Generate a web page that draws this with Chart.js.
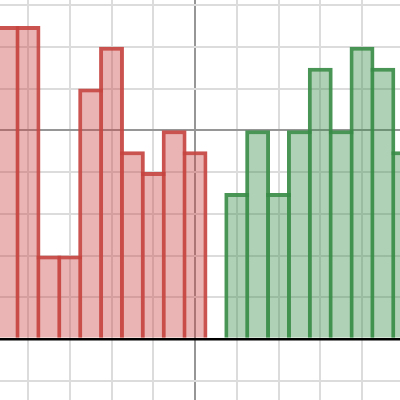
<!DOCTYPE html>
<html>
<head>
<meta charset="utf-8">
<script src="https://cdn.jsdelivr.net/npm/chart.js@4"></script>
<style>
  html, body { margin: 0; padding: 0; background: #fff; }
  #wrap { width: 400px; height: 400px; }
</style>
</head>
<body>
<div id="wrap"><canvas id="chart"></canvas></div>
<script>
// ------------------------------------
// DATA
// ------------------------------------
const redX = [-4.5, -4, -3.5, -3, -2.5, -2, -1.5, -1, -0.5, 0];
const redY = [7.5, 7.5, 2, 2, 6, 7, 4.5, 4, 5, 4.5];

const greenX = [1, 1.5, 2, 2.5, 3, 3.5, 4, 4.5, 5];
const greenY = [3.5, 5, 3.5, 5, 6.5, 5, 7, 6.5, 4.5];

// ------------------------------------
// helpers
// ------------------------------------
const EDGE = 4;
const BAR_PX = 20.875; // half a grid unit at this zoom

// shared edge between two bars is drawn once, by the taller bar
function edges(ctx) {
  const d = ctx.dataset.data;
  const i = ctx.dataIndex;
  if (i === undefined || !d[i]) return EDGE;
  const me = d[i].y;
  const left = i > 0 ? d[i - 1].y : null;
  const right = i < d.length - 1 ? d[i + 1].y : null;
  return {
    top: EDGE,
    left: left === null || left < me ? EDGE : 0,
    right: right === null || right <= me ? EDGE : 0,
    bottom: 0,
  };
}

function gridColor(isY) {
  return (ctx) => {
    if (!ctx.tick) return "#dcdcdc";
    const v = ctx.tick.value;
    if (isY && v === 0) return "#000000";
    if (v % 5 === 0) return "#969696";
    return "#dcdcdc";
  };
}

// ------------------------------------
// CHART
// ------------------------------------
const ctx = document.getElementById("chart").getContext("2d");

new Chart(ctx, {
  type: "bar",
  data: {
    datasets: [
      {
        label: "red",
        data: redX.map((x, i) => ({ x: x, y: redY[i] })),
        backgroundColor: "rgba(199,68,64,0.4)",
        borderColor: "rgba(199,68,64,0.92)",
        borderWidth: edges,
      },
      {
        label: "green",
        data: greenX.map((x, i) => ({ x: x, y: greenY[i] })),
        backgroundColor: "rgba(56,140,70,0.4)",
        borderColor: "rgba(56,140,70,0.92)",
        borderWidth: edges,
      },
    ],
  },
  options: {
    responsive: true,
    maintainAspectRatio: false,
    animation: false,
    layout: { padding: 0 },
    grouped: false,
    // widen so the inner border sits centred on the bin edge
    barPercentage: 1 + EDGE / BAR_PX,
    categoryPercentage: 1,
    inflateAmount: 0,
    plugins: {
      legend: { display: false },
      tooltip: { enabled: false },
    },
    scales: {
      x: {
        type: "linear",
        offset: false,
        min: -4.671,
        max: 4.91,
        ticks: { display: false, stepSize: 1, includeBounds: false },
        grid: {
          color: gridColor(false),
          lineWidth: 2,
          drawTicks: false,
          offset: false,
        },
        border: { display: false },
      },
      y: {
        type: "linear",
        min: -1.46,
        max: 8.12,
        ticks: { display: false, stepSize: 1, includeBounds: false },
        grid: {
          color: gridColor(true),
          lineWidth: (c) => (c.tick && c.tick.value === 0 ? 2.5 : 2),
          drawTicks: false,
        },
        border: { display: false },
      },
    },
  },
});
</script>
</body>
</html>
